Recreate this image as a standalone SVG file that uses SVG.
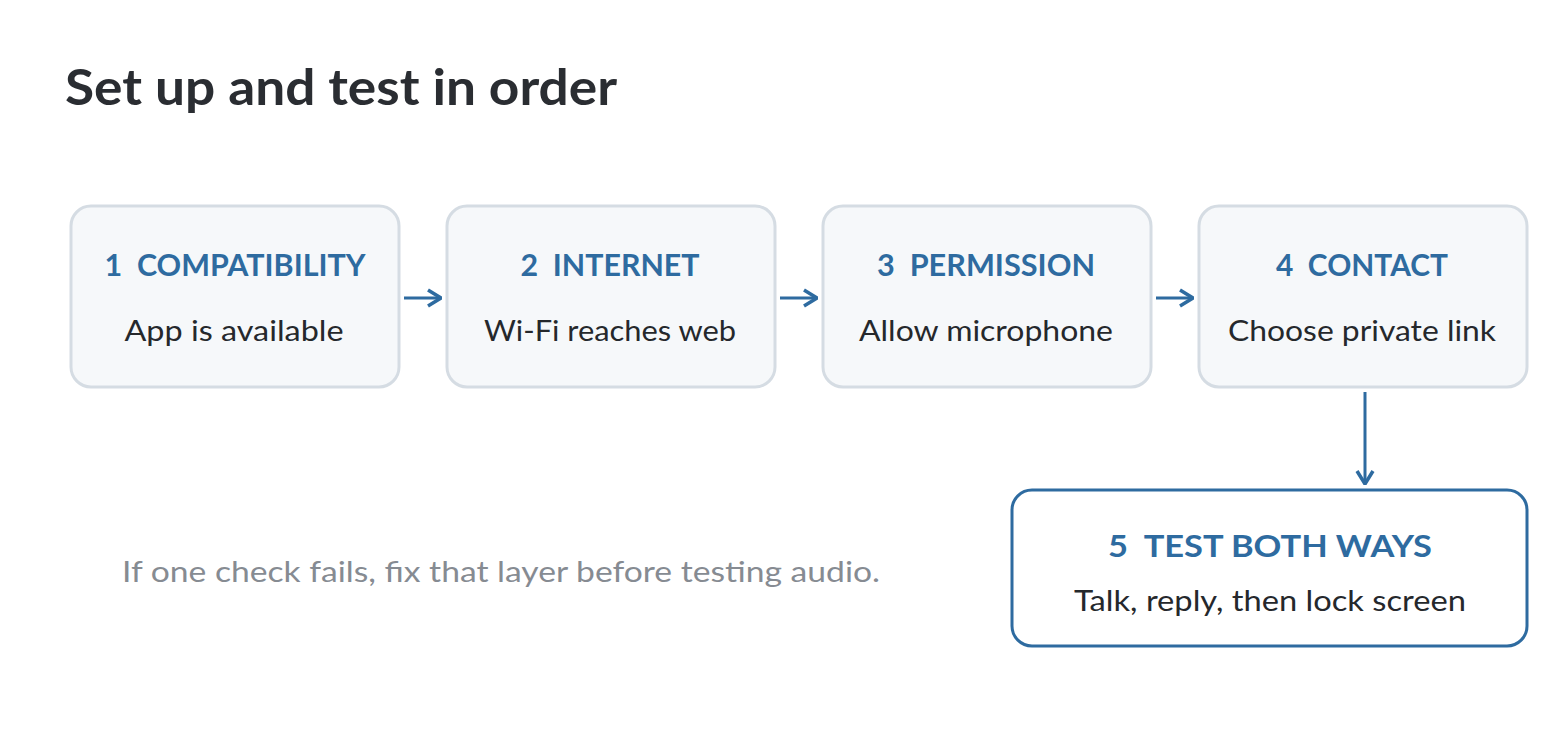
<svg xmlns="http://www.w3.org/2000/svg" width="1546" height="740" viewBox="0 0 1546 740">
<defs>
<style>
.box{fill:#f6f8fa;stroke:#d5dce3;stroke-width:3}
.box5{fill:#ffffff;stroke:#2e6ba0;stroke-width:3}
.hd{font-family:Lato,"Liberation Sans",sans-serif;font-weight:700;font-size:31px;fill:#2e6ba0;text-anchor:middle;white-space:pre}
.bd{font-family:Lato,"Liberation Sans",sans-serif;font-size:29px;fill:#25282c;text-anchor:middle}
.title{font-family:Lato,"Liberation Sans",sans-serif;font-weight:700;font-size:50px;fill:#2a2d32}
.note{font-family:Lato,"Liberation Sans",sans-serif;font-size:29px;fill:#868b92}
.edge{stroke:#2e6ba0;stroke-width:3;fill:none}
</style>
<marker id="ah" viewBox="0 0 16 20" refX="15" refY="10" markerWidth="16" markerHeight="20" markerUnits="userSpaceOnUse" orient="auto">
<path d="M2,2 L15,10 L2,18" fill="none" stroke="#2e6ba0" stroke-width="3.5"/>
</marker>
</defs>
<rect width="1546" height="740" fill="#ffffff"/>
<text class="title" x="65" y="105" textLength="552" lengthAdjust="spacingAndGlyphs">Set up and test in order</text>
<g id="connectors">
<line class="edge" x1="404" y1="298" x2="441" y2="298" marker-end="url(#ah)"/>
<line class="edge" x1="780" y1="298" x2="817" y2="298" marker-end="url(#ah)"/>
<line class="edge" x1="1156" y1="298" x2="1193" y2="298" marker-end="url(#ah)"/>
<line class="edge" x1="1365" y1="392" x2="1365" y2="484" marker-end="url(#ah)"/>
</g>
<g id="node1">
<rect class="box" x="71" y="206" width="328" height="181" rx="20"/>
<text class="hd" x="235" y="276" textLength="261" lengthAdjust="spacingAndGlyphs" xml:space="preserve">1  COMPATIBILITY</text>
<text class="bd" x="234" y="341" textLength="219" lengthAdjust="spacingAndGlyphs">App is available</text>
</g>
<g id="node2">
<rect class="box" x="447" y="206" width="328" height="181" rx="20"/>
<text class="hd" x="610" y="276" textLength="179" lengthAdjust="spacingAndGlyphs" xml:space="preserve">2  INTERNET</text>
<text class="bd" x="610" y="341" textLength="252" lengthAdjust="spacingAndGlyphs">Wi-Fi reaches web</text>
</g>
<g id="node3">
<rect class="box" x="823" y="206" width="328" height="181" rx="20"/>
<text class="hd" x="986" y="276" textLength="218" lengthAdjust="spacingAndGlyphs" xml:space="preserve">3  PERMISSION</text>
<text class="bd" x="986" y="341" textLength="254" lengthAdjust="spacingAndGlyphs">Allow microphone</text>
</g>
<g id="node4">
<rect class="box" x="1199" y="206" width="328" height="181" rx="20"/>
<text class="hd" x="1362" y="276" textLength="172" lengthAdjust="spacingAndGlyphs" xml:space="preserve">4  CONTACT</text>
<text class="bd" x="1362" y="341" textLength="268" lengthAdjust="spacingAndGlyphs">Choose private link</text>
</g>
<g id="node5">
<rect class="box5" x="1012" y="490" width="515" height="156" rx="20"/>
<text class="hd" x="1270" y="557" textLength="324" lengthAdjust="spacingAndGlyphs" xml:space="preserve">5  TEST BOTH WAYS</text>
<text class="bd" x="1270" y="611" textLength="392" lengthAdjust="spacingAndGlyphs">Talk, reply, then lock screen</text>
</g>
<text class="note" x="122" y="582" textLength="758" lengthAdjust="spacingAndGlyphs">If one check fails, fix that layer before testing audio.</text>
</svg>
